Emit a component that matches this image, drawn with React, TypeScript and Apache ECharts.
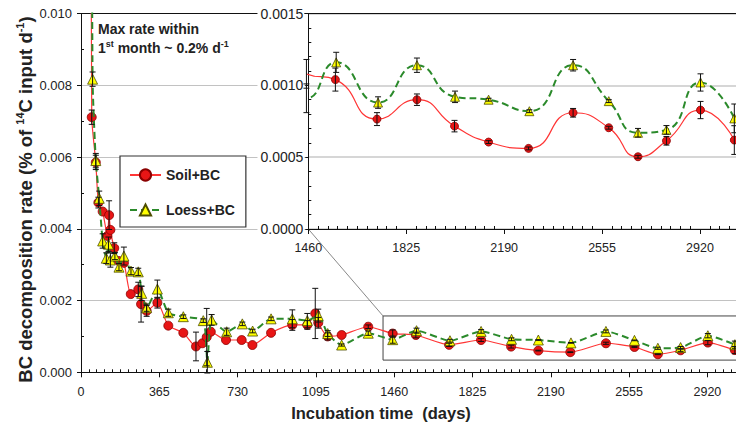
import { useEffect, useRef } from 'react';
import * as echarts from 'echarts';

// ---------- data ----------
const soilDays = [38, 50, 69, 81, 101, 123, 131, 137, 155, 177, 200, 232, 267, 280, 306, 356, 407, 477, 536, 566, 586, 605, 676, 749, 799, 886, 985, 1055, 1092, 1106, 1150, 1215, 1339, 1453, 1561, 1716, 1865, 2005, 2132, 2281, 2447, 2580, 2689, 2795, 2922, 3048];
const soilRate = [0.03, 0.00711, 0.00585, 0.00473, 0.00448, 0.0038, 0.00438, 0.00397, 0.00346, 0.0031, 0.00305, 0.00218, 0.00231, 0.0019, 0.00171, 0.00194, 0.0013, 0.0011, 0.00072, 0.00081, 0.00098, 0.00113, 0.0009, 0.0009, 0.00076, 0.0011, 0.00132, 0.00132, 0.00164, 0.00138, 0.001, 0.00104, 0.00127, 0.00108, 0.00104, 0.000765, 0.0009, 0.000716, 0.000605, 0.000561, 0.000809, 0.000705, 0.000503, 0.000614, 0.000828, 0.000619];
const soilErr = [0, 0.0002, 0.0002, 0.00015, 0, 0, 0.0004, 0, 0.00015, 0, 0, 0, 0.0002, 0.0005, 0.00015, 0.00015, 0, 0, 0.0004, 0, 0.0008, 0, 0, 0, 0, 0, 0.00015, 0.00012, 0.0007, 0.00015, 0.0001, 0, 0.00005, 0.0001, 0.00008, 0.000045, 0.00004, 0.00004, 0.00001, 0.00001, 0.00003, 0.00001, 0.00001, 0.00003, 0.00006, 0.0001];

const loessDays = [40, 54, 69, 85, 101, 118, 128, 137, 158, 177, 200, 233, 267, 283, 306, 356, 407, 477, 570, 589, 609, 679, 752, 800, 886, 985, 1055, 1106, 1150, 1215, 1339, 1453, 1564, 1720, 1865, 2007, 2132, 2284, 2447, 2580, 2689, 2795, 2922, 3048];
const loessRate = [0.03, 0.00817, 0.0059, 0.00485, 0.00366, 0.00318, 0.00357, 0.00313, 0.00324, 0.00293, 0.00324, 0.00282, 0.0028, 0.0022, 0.0018, 0.00232, 0.00166, 0.00155, 0.00144, 0.00028, 0.00146, 0.00113, 0.00135, 0.00115, 0.00149, 0.00149, 0.00144, 0.00158, 0.00108, 0.00076, 0.00109, 0.00091, 0.00116, 0.00088, 0.00114, 0.00092, 0.0009, 0.00082, 0.00114, 0.00089, 0.00067, 0.00069, 0.00102, 0.00077];
const loessErr = [0, 0.0002, 0.0002, 0.0002, 0.0002, 0.00015, 0.0002, 0.0002, 0.0001, 0.0001, 0.00025, 0.0001, 0.0001, 0.0002, 0.0001, 0.00025, 0.0001, 0.00005, 0.00005, 0.0003, 0.00015, 0.0001, 0.00005, 0.00005, 0.00005, 0.00025, 0.0002, 0.00018, 0.00008, 0.00003, 0.00006, 0.0001, 0.00007, 0.00004, 0.00005, 0.00004, 0.00001, 0.00001, 0.00004, 0.00001, 0.00003, 0.00003, 0.00006, 0.0001];

// axes
const dayInterval = 365;
const mainDayRange = [0, 3285];
const mainRateRange = [0, 0.01];
const mainRateInterval = 0.002;
const insetDayRange = [1460, 3285];
const insetRateRange = [0, 0.0015];
const insetRateInterval = 0.0005;
// zoom box drawn in main panel
const zoomBoxDays = [1408, 3285];
const zoomBoxRate = [0.00034, 0.00157];

const FONT = '"Liberation Sans", Arial, sans-serif';
const TXT = '#222';

const pairs = (xs: number[], ys: number[]) => xs.map((x, i) => [x, ys[i]]);
const errs = (xs: number[], ys: number[], es: number[]) =>
  xs.map((x, i) => [x, ys[i] - es[i], ys[i] + es[i]]).filter((_, i) => es[i] > 0);

const errorRender = (cap: number) => (params: any, api: any) => {
  const x = api.value(0);
  const p1 = api.coord([x, api.value(2)]);
  const p2 = api.coord([x, api.value(1)]);
  const st = { stroke: '#111', lineWidth: 1 };
  return {
    type: 'group',
    children: [
      { type: 'line', shape: { x1: p1[0], y1: p1[1], x2: p2[0], y2: p2[1] }, style: st },
      { type: 'line', shape: { x1: p1[0] - cap, y1: p1[1], x2: p1[0] + cap, y2: p1[1] }, style: st },
      { type: 'line', shape: { x1: p2[0] - cap, y1: p2[1], x2: p2[0] + cap, y2: p2[1] }, style: st },
    ],
  };
};

const soilLine = { color: '#ff3535', width: 1.2 };
const soilItem = { color: '#e81515', borderColor: '#8a0000', borderWidth: 0.8 };
const loessLine = { color: '#2b8a2b', width: 2, type: [7, 4] as any };
const loessItem = { color: '#ffff00', borderColor: '#4d4d00', borderWidth: 0.8 };

export default function App() {
  const ref = useRef<HTMLDivElement>(null);
  useEffect(() => {
    if (!ref.current) return;
    const chart = echarts.init(ref.current, undefined, { renderer: 'svg' });
    const axisLabel = { color: TXT, fontFamily: FONT };
    const dayFmt = (v: number) => String(v);
    const option: any = {
      animation: false,
      backgroundColor: '#fff',
      grid: [
        { left: 81, top: 13.5, width: 704.7, height: 358.8, outerBoundsMode: 'none' },
        {
          left: 308.3, top: 13.5, width: 489.6, height: 215.5, outerBoundsMode: 'none',
          show: true, backgroundColor: '#fff', borderWidth: 0, z: 5,
        },
      ],
      xAxis: [
        {
          gridIndex: 0, type: 'value', position: 'bottom',
          min: mainDayRange[0], max: mainDayRange[1], interval: dayInterval,
          axisLine: { lineStyle: { color: '#111', width: 1 } },
          axisTick: { length: 5, lineStyle: { color: '#111' } },
          minorTick: { show: true, splitNumber: 10, length: -3, lineStyle: { color: '#111' } },
          splitLine: { show: false },
          axisLabel: { ...axisLabel, fontSize: 12.5, margin: 13, showMaxLabel: false, formatter: dayFmt },
        },
        {
          gridIndex: 0, type: 'value', position: 'top',
          min: mainDayRange[0], max: mainDayRange[1],
          axisLine: { lineStyle: { color: '#111', width: 1 } },
          axisTick: { show: false }, axisLabel: { show: false }, splitLine: { show: false },
        },
        {
          gridIndex: 1, type: 'value', position: 'bottom', z: 6,
          min: insetDayRange[0], max: insetDayRange[1], interval: dayInterval,
          axisLine: { lineStyle: { color: '#111', width: 1 } },
          axisTick: { length: 5, lineStyle: { color: '#111' } },
          minorTick: { show: true, splitNumber: 10, length: -3, lineStyle: { color: '#111' } },
          splitLine: { show: false },
          axisLabel: { ...axisLabel, fontSize: 12.5, margin: 12, showMaxLabel: false, formatter: dayFmt },
        },
        {
          gridIndex: 1, type: 'value', position: 'top', z: 6,
          min: insetDayRange[0], max: insetDayRange[1],
          axisLine: { lineStyle: { color: '#111', width: 1 } },
          axisTick: { show: false }, axisLabel: { show: false }, splitLine: { show: false },
        },
      ],
      yAxis: [
        {
          gridIndex: 0, type: 'value',
          min: mainRateRange[0], max: mainRateRange[1], interval: mainRateInterval,
          axisLine: { show: true, lineStyle: { color: '#111', width: 1 } },
          axisTick: { show: true, length: 4, lineStyle: { color: '#111' } },
          minorTick: { show: true, splitNumber: 2, length: -3, lineStyle: { color: '#111' } },
          splitLine: { show: true, lineStyle: { color: '#c2c2c2', width: 1 } },
          axisLabel: { ...axisLabel, fontSize: 13, margin: 9, formatter: (v: number) => v.toFixed(3) },
        },
        {
          gridIndex: 1, type: 'value', z: 6,
          min: insetRateRange[0], max: insetRateRange[1], interval: insetRateInterval,
          axisLine: { show: true, lineStyle: { color: '#111', width: 1 } },
          axisTick: { show: true, length: 3, lineStyle: { color: '#111' } },
          minorTick: { show: true, splitNumber: 5, length: -3, lineStyle: { color: '#111' } },
          splitLine: { show: true, lineStyle: { color: '#c8c8c8', width: 1.5 } },
          axisLabel: {
            ...axisLabel, fontSize: 14, margin: 4, backgroundColor: '#fff', padding: [1, 1, 1, 3],
            formatter: (v: number) => v.toFixed(4),
          },
        },
      ],
      legend: {
        data: ['Soil+BC', 'Loess+BC'],
        orient: 'vertical', left: 120, top: 156,
        padding: [12, 11, 10, 9], itemGap: 21, itemWidth: 31, itemHeight: 14,
        borderColor: '#333', borderWidth: 1.2, backgroundColor: '#fff',
        textStyle: { fontSize: 14, fontWeight: 'bold', color: TXT, fontFamily: FONT },
      },
      series: [
        {
          name: 'Loess+BC', type: 'line', xAxisIndex: 0, yAxisIndex: 0, z: 3,
          data: pairs(loessDays, loessRate), smooth: 0.2,
          symbol: 'triangle', symbolSize: 10, lineStyle: loessLine, itemStyle: loessItem,
        },
        {
          name: 'Soil+BC', type: 'line', xAxisIndex: 0, yAxisIndex: 0, z: 2,
          data: pairs(soilDays, soilRate), smooth: 0.2,
          symbol: 'circle', symbolSize: 9, lineStyle: soilLine, itemStyle: soilItem,
          markArea: {
            silent: true,
            itemStyle: { color: 'rgba(0,0,0,0)', borderColor: '#444', borderWidth: 1 },
            data: [[{ xAxis: zoomBoxDays[0], yAxis: zoomBoxRate[0] }, { xAxis: zoomBoxDays[1], yAxis: zoomBoxRate[1] }]],
          },
        },
        {
          name: 'err-main', type: 'custom', xAxisIndex: 0, yAxisIndex: 0, z: 4,
          data: [...errs(soilDays, soilRate, soilErr), ...errs(loessDays, loessRate, loessErr)],
          encode: { x: 0, y: [1, 2] }, renderItem: errorRender(3),
        },
        {
          name: 'Soil+BC inset', type: 'line', xAxisIndex: 2, yAxisIndex: 1, z: 12,
          data: pairs(soilDays, soilRate), smooth: 0.55, clip: true,
          symbol: 'circle', symbolSize: 8, lineStyle: soilLine, itemStyle: soilItem,
        },
        {
          name: 'Loess+BC inset', type: 'line', xAxisIndex: 2, yAxisIndex: 1, z: 13,
          data: pairs(loessDays, loessRate), smooth: 0.55, clip: true,
          symbol: 'triangle', symbolSize: 9, lineStyle: loessLine, itemStyle: loessItem,
        },
        {
          name: 'err-inset', type: 'custom', xAxisIndex: 2, yAxisIndex: 1, z: 14,
          data: [...errs(soilDays, soilRate, soilErr), ...errs(loessDays, loessRate, loessErr)].filter(d => d[0] >= 1440),
          encode: { x: 0, y: [1, 2] }, renderItem: errorRender(3),
        },
      ],
      graphic: {
        elements: [
          {
            id: 'ann1', type: 'text', x: 98, y: 29, z: 20,
            style: { text: 'Max rate within', fill: TXT, font: `bold 14px ${FONT}`, align: 'left', verticalAlign: 'middle' },
          },
          {
            id: 'ann2', type: 'text', x: 98, y: 48, z: 20,
            style: {
              text: '{a|1}{s|st}{a| month ~ 0.2% d}{s|-1}', align: 'left', verticalAlign: 'middle',
              rich: {
                a: { fill: TXT, fontSize: 14, fontWeight: 'bold', fontFamily: FONT, lineHeight: 18 },
                s: { fill: TXT, fontSize: 9, fontWeight: 'bold', fontFamily: FONT, lineHeight: 10, verticalAlign: 'top' },
              },
            },
          },
          {
            id: 'xname', type: 'text', x: 381, y: 413, z: 20,
            style: { text: 'Incubation time  (days)', fill: TXT, font: `bold 16.5px ${FONT}`, align: 'center', verticalAlign: 'middle' },
          },
          {
            id: 'yname', type: 'text', x: 25, y: 199.5, rotation: Math.PI / 2, z: 20,
            style: {
              text: '{a|BC decomposition rate (% of }{s|14}{a|C input d}{s|-1}{a|)}', align: 'center', verticalAlign: 'middle',
              rich: {
                a: { fill: TXT, fontSize: 18.5, fontWeight: 'bold', fontFamily: FONT, lineHeight: 22 },
                s: { fill: TXT, fontSize: 11, fontWeight: 'bold', fontFamily: FONT, lineHeight: 12, verticalAlign: 'top' },
              },
            },
          },
        ],
      },
    };
    chart.setOption(option);
    const p1 = chart.convertToPixel({ xAxisIndex: 2, yAxisIndex: 1 } as any, [insetDayRange[0], insetRateRange[0]]) as number[];
    const p2 = chart.convertToPixel({ xAxisIndex: 0, yAxisIndex: 0 } as any, [zoomBoxDays[0], zoomBoxRate[1]]) as number[];
    chart.setOption({
      graphic: {
        elements: [
          {
            id: 'connector', type: 'line', z: 4,
            shape: { x1: p1[0], y1: p1[1], x2: p2[0], y2: p2[1] },
            style: { stroke: '#7a7a7a', lineWidth: 0.9 },
          },
        ],
      },
    });
    return () => chart.dispose();
  }, []);
  return (
    <div style={{ position: 'fixed', left: 0, top: 0, width: 736, height: 426, overflow: 'hidden', background: '#fff' }}>
      <div ref={ref} style={{ width: 820, height: 426 }} />
    </div>
  );
}
